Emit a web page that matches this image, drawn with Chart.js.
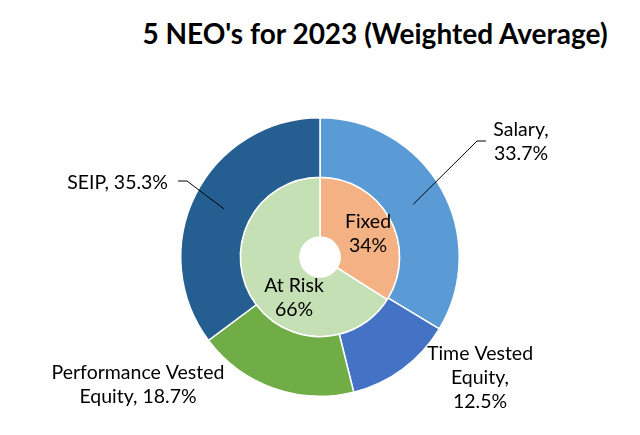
<!DOCTYPE html>
<html>
<head>
<meta charset="utf-8">
<script src="https://cdn.jsdelivr.net/npm/chart.js@4.4.1/dist/chart.umd.min.js"></script>
<style>
  html, body { margin: 0; padding: 0; background: #fff; }
  #wrap { position: relative; width: 640px; height: 435px; }
  #title {
    position: absolute; left: 126px; top: 16px; width: 498px;
    text-align: center; font: bold 28px Lato, sans-serif; color: #000;
    white-space: nowrap;
  }
  canvas { position: absolute; left: 0; top: 0; }
</style>
</head>
<body>
<div id="wrap">
  <div id="title">5 NEO's for 2023 (Weighted Average)</div>
  <canvas id="myChart" width="640" height="435"></canvas>
</div>
<script>
// outer ring: pay components
const components = ['Salary', 'Time Vested Equity', 'Performance Vested Equity', 'SEIP'];
const componentPct = [33.7, 12.5, 18.7, 35.3];
const componentColors = ['#5B9BD5', '#4472C4', '#70AD47', '#255E91'];

// inner ring: fixed vs at risk
const groups = ['Fixed', 'At Risk'];
const groupPct = [34, 66];
const groupColors = ['#F4B183', '#C5E0B4'];

const labelFont = '19.5px Lato, sans-serif';

// label text lines and where they sit relative to the chart centre
const outerLabels = [
  { lines: ['Salary,', '33.7%'], dx: 201, dy: -115, align: 'center', leader: true, side: 1 },
  { lines: ['Time Vested', 'Equity,', '12.5%'], dx: 160, dy: 121, align: 'center' },
  { lines: ['Performance Vested', 'Equity, 18.7%'], dx: -182, dy: 128, align: 'center' },
  { lines: ['SEIP, 35.3%'], dx: -152, dy: -74, align: 'right', leader: true, side: -1 }
];
const innerOffsets = [{ dx: 48, dy: -23 }, { dx: -26, dy: 41 }];

const labelPlugin = {
  id: 'pieLabels',
  afterDatasetsDraw(chart) {
    const ctx = chart.ctx;
    const outer = chart.getDatasetMeta(0).data;
    const inner = chart.getDatasetMeta(1).data;
    const cx = outer[0].x, cy = outer[0].y;
    const R = outer[0].outerRadius;
    ctx.save();
    ctx.font = labelFont;
    ctx.fillStyle = '#000';
    ctx.textBaseline = 'middle';
    const lh = 24;
    outerLabels.forEach((lab, i) => {
      const x = cx + lab.dx, y = cy + lab.dy;
      ctx.textAlign = lab.align;
      lab.lines.forEach((t, k) => ctx.fillText(t, x, y + k * lh - (lab.lines.length - 1) * lh / 2));
      if (lab.leader) {
        const a = outer[i];
        const mid = (a.startAngle + a.endAngle) / 2;
        const r = R * 0.77;
        const px = cx + r * Math.cos(mid), py = cy + r * Math.sin(mid);
        let ex, ey;
        if (lab.side > 0) { ex = cx + 157; ey = cy - 116; }
        else { ex = cx - 133; ey = cy - 76; }
        ctx.strokeStyle = '#000';
        ctx.lineWidth = 1;
        ctx.beginPath();
        ctx.moveTo(px, py);
        ctx.lineTo(ex, ey);
        ctx.lineTo(ex + lab.side * 9, ey);
        ctx.stroke();
      }
    });
    ctx.textAlign = 'center';
    inner.forEach((a, i) => {
      const x = cx + innerOffsets[i].dx, y = cy + innerOffsets[i].dy;
      ctx.fillText(groups[i], x, y - 12);
      ctx.fillText(groupPct[i] + '%', x, y + 12);
    });
    ctx.restore();
  }
};

new Chart(document.getElementById('myChart'), {
  type: 'doughnut',
  data: {
    labels: components,
    datasets: [
      { data: componentPct, backgroundColor: componentColors, borderColor: '#fff', borderWidth: 1.5 },
      { data: groupPct, backgroundColor: groupColors, borderColor: '#fff', borderWidth: 1.5, labels: groups }
    ]
  },
  options: {
    responsive: false,
    animation: false,
    cutout: '14.4%',
    layout: { padding: { left: 180, right: 180, top: 117, bottom: 38 } },
    plugins: { legend: { display: false }, tooltip: { enabled: false } }
  },
  plugins: [labelPlugin]
});
</script>
</body>
</html>
